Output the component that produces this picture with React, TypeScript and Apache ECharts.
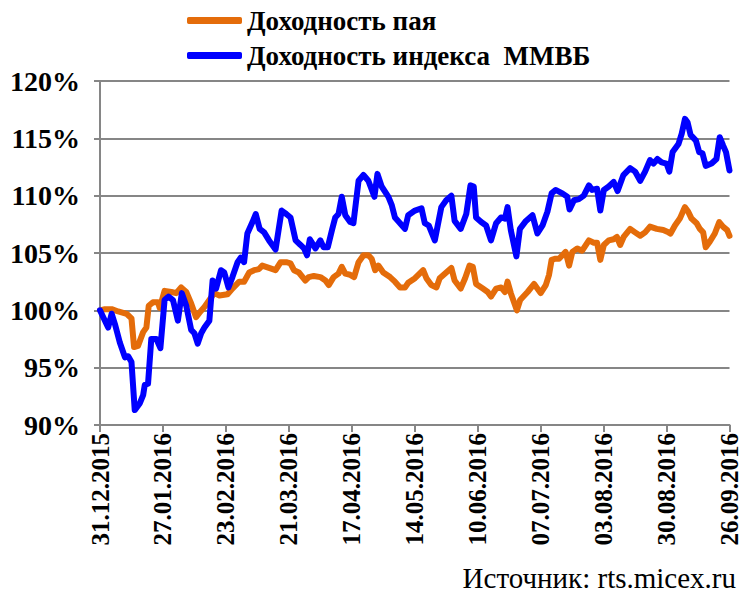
import React, { useEffect, useRef } from "react";
import * as echarts from "echarts";

const tickLabels = [
  "31.12.2015", "27.01.2016", "23.02.2016", "21.03.2016", "17.04.2016", "14.05.2016",
  "10.06.2016", "07.07.2016", "03.08.2016", "30.08.2016", "26.09.2016",
];

const seriesNames = ["Доходность пая", "Доходность индекса  ММВБ"];

// days since 31.12.2015
const fundDays = [
  0, 2.1, 5.0, 7.8, 11.4, 13.5, 14.6, 16.3, 18.5, 19.9, 20.9, 22.7, 24.9, 25.6, 27.7, 30.6, 32.7, 34.8, 37.0, 39.1,
  41.2, 43.1, 44.8, 46.9, 49.0, 51.2, 54.7, 56.8, 59.7, 61.8, 64.0, 66.1, 68.2, 69.6, 72.5, 75.3, 77.5, 79.9, 81.7, 83.2,
  85.3, 88.1, 89.5, 91.7, 94.5, 96.7, 98.1, 100.2, 102.3, 103.7, 105.2, 107.3, 109.0, 110.9, 113.0, 115.1, 116.5, 118.0, 119.4, 121.5,
  124.4, 126.5, 128.7, 130.8, 132.2, 135.1, 138.6, 140.0, 142.1, 144.3, 145.7, 148.5, 150.7, 152.1, 154.7, 156.6, 158.5, 159.9, 161.3, 164.2,
  166.3, 167.7, 169.9, 172.0, 173.7, 174.8, 176.2, 178.8, 180.2, 183.4, 186.2, 189.0, 191.2, 192.6, 193.7, 195.4, 196.9, 198.3, 199.7, 201.2,
  202.6, 204.7, 206.8, 209.7, 211.8, 213.2, 214.6, 216.1, 218.2, 220.3, 221.7, 223.1, 224.6, 227.4, 229.5, 231.7, 233.8, 235.9, 238.8, 241.6,
  243.8, 244.7, 246.6, 248.7, 250.2, 250.9, 252.3, 253.7, 255.9, 257.3, 258.7, 259.8, 261.6, 263.7, 265.6, 267.2, 269.0, 270,
];
const fundValues = [
  100.0, 100.1, 100.1, 99.9, 99.7, 99.3, 96.8, 96.9, 98.1, 98.5, 100.4, 100.7, 100.7, 100.2, 101.7, 101.6, 101.5, 102.0, 101.6, 100.6,
  99.4, 99.9, 100.3, 100.9, 101.5, 101.3, 101.4, 101.9, 102.5, 102.5, 103.3, 103.5, 103.6, 103.9, 103.7, 103.5, 104.2, 104.2, 104.1, 103.5,
  103.3, 102.6, 102.9, 103.0, 102.9, 102.6, 102.2, 102.9, 103.2, 103.8, 103.2, 103.1, 102.9, 104.2, 104.8, 104.8, 104.5, 103.5, 103.9, 103.3,
  102.9, 102.5, 102.0, 102.0, 102.4, 102.8, 103.5, 102.8, 102.2, 102.0, 102.8, 103.3, 103.7, 102.6, 101.9, 102.8, 103.9, 103.8, 102.3, 101.9,
  101.6, 101.2, 101.9, 102.0, 101.6, 102.5, 101.5, 100.0, 100.9, 101.6, 102.3, 101.5, 102.2, 103.1, 104.4, 104.5, 104.5, 104.8, 105.1, 103.9,
  105.1, 105.4, 105.2, 106.1, 105.9, 105.9, 104.4, 105.7, 106.1, 106.2, 106.4, 105.7, 106.4, 107.1, 106.8, 106.5, 106.8, 107.3, 107.1, 107.0,
  106.8, 106.7, 107.4, 108.0, 108.7, 109.0, 108.6, 108.0, 107.6, 107.1, 106.8, 105.5, 106.0, 106.7, 107.7, 107.3, 107.0, 106.5,
];

const indexDays = [
  0, 1.4, 3.5, 5.0, 6.4, 8.5, 10.7, 12.1, 13.5, 14.9, 17.1, 18.5, 19.2, 20.6, 22.0, 24.2, 25.9, 27.7, 29.4, 31.3,
  33.4, 35.1, 37.0, 39.1, 40.5, 41.9, 43.4, 44.8, 46.9, 48.3, 49.8, 51.9, 53.3, 55.1, 56.8, 59.0, 60.4, 61.8, 63.2, 65.4,
  66.8, 68.5, 70.4, 72.5, 75.3, 77.9, 79.9, 81.7, 83.9, 86.0, 87.5, 88.8, 90.0, 92.4, 94.5, 95.9, 97.7, 99.5, 100.9, 102.3,
  103.7, 105.2, 107.3, 108.7, 110.9, 113.0, 115.1, 117.7, 119.0, 120.8, 123.7, 125.1, 126.5, 128.7, 130.8, 132.2, 135.1, 137.9, 139.3, 141.0,
  143.6, 146.4, 148.5, 150.7, 152.1, 154.7, 157.1, 158.9, 160.3, 161.3, 163.5, 165.6, 167.7, 169.9, 172.0, 173.7, 174.8, 176.2, 178.6, 180.1,
  182.7, 185.5, 187.6, 189.8, 191.9, 193.7, 195.4, 198.3, 200.4, 201.4, 203.3, 205.4, 207.5, 209.7, 211.1, 213.2, 214.6, 216.1, 218.2, 220.3,
  222.0, 224.5, 227.4, 229.5, 231.7, 233.8, 235.9, 237.4, 239.1, 240.9, 243.0, 244.2, 245.6, 248.1, 249.5, 250.9, 252.0, 253.3, 255.6, 257.0,
  258.4, 259.8, 262.3, 264.4, 265.8, 267.2, 268.5, 270,
];
const indexValues = [
  100.0, 99.4, 98.5, 99.7, 98.8, 97.2, 95.9, 96.0, 95.5, 91.3, 91.9, 92.6, 93.5, 93.6, 97.5, 97.5, 96.7, 100.9, 101.2, 100.9,
  99.1, 101.5, 100.4, 98.3, 98.0, 97.1, 98.0, 98.5, 99.1, 102.6, 101.9, 103.5, 103.3, 102.0, 102.9, 104.2, 104.6, 104.2, 106.7, 107.7,
  108.4, 107.1, 106.8, 106.1, 105.3, 108.7, 108.4, 108.1, 106.1, 105.7, 105.4, 104.8, 106.2, 105.4, 106.1, 105.5, 105.5, 107.0, 108.1, 108.4,
  109.9, 108.3, 107.7, 107.6, 111.3, 111.8, 111.3, 109.9, 111.9, 110.8, 109.9, 109.2, 108.1, 107.6, 107.1, 108.3, 108.7, 108.9, 107.6, 107.4,
  106.1, 109.0, 109.6, 110.0, 107.8, 107.1, 108.4, 110.9, 110.8, 108.1, 107.7, 107.4, 106.1, 107.6, 108.1, 108.0, 109.0, 107.0, 104.7, 107.1,
  107.8, 108.3, 106.7, 107.4, 108.6, 110.2, 110.5, 110.2, 109.9, 108.8, 109.6, 109.7, 110.0, 110.9, 110.5, 110.6, 108.7, 110.5, 110.8, 111.2,
  110.4, 111.8, 112.4, 112.1, 111.3, 112.1, 113.1, 112.8, 113.2, 112.9, 112.8, 112.1, 113.8, 114.5, 115.4, 116.7, 116.4, 115.3, 114.8, 113.8,
  113.7, 112.6, 112.8, 113.2, 115.1, 114.4, 113.8, 112.2,
];

const serif = "'Liberation Serif', 'Times New Roman', serif";

export default function App() {
  const ref = useRef<HTMLDivElement>(null);
  useEffect(() => {
    if (!ref.current) return;
    const chart = echarts.init(ref.current, null, { renderer: "svg" });
    const fundData = fundDays.map((d, i) => [d, fundValues[i]]);
    const indexData = indexDays.map((d, i) => [d, indexValues[i]]);
    chart.setOption({
      animation: false,
      backgroundColor: "#ffffff",
      legend: {
        orient: "vertical",
        left: 182,
        top: 2,
        itemWidth: 55,
        itemHeight: 7,
        itemGap: 8,
        icon: "roundRect",
        textStyle: { fontFamily: serif, fontWeight: "bold", fontSize: 27, color: "#000" },
        data: seriesNames,
      },
      grid: { left: 100, right: 8, top: 81, bottom: 168, containLabel: false },
      xAxis: {
        type: "value",
        min: 0,
        max: 270,
        interval: 27,
        axisLine: { show: true, lineStyle: { color: "#868686", width: 2 } },
        axisTick: { show: true, length: 7, lineStyle: { color: "#868686", width: 2 } },
        splitLine: { show: false },
        axisLabel: {
          rotate: 90,
          margin: 8,
          fontFamily: serif,
          fontWeight: "bold",
          fontSize: 25,
          color: "#000",
          formatter: (v: number) => tickLabels[Math.round(v / 27)] ?? "",
        },
      },
      yAxis: {
        type: "value",
        min: 90,
        max: 120,
        interval: 5,
        axisLine: { show: true, lineStyle: { color: "#868686", width: 2 } },
        axisTick: { show: true, length: 6, lineStyle: { color: "#868686", width: 2 } },
        splitLine: { show: true, lineStyle: { color: "#868686", width: 2 } },
        axisLabel: {
          margin: 20,
          fontFamily: serif,
          fontWeight: "bold",
          fontSize: 28,
          color: "#000",
          formatter: (v: number) => `${v}%`,
        },
      },
      series: [
        {
          name: seriesNames[0],
          type: "line",
          data: fundData,
          showSymbol: false,
          symbol: "none",
          color: "#E46C0A",
          lineStyle: { color: "#E46C0A", width: 6, join: "round", cap: "round" },
          z: 2,
        },
        {
          name: seriesNames[1],
          type: "line",
          data: indexData,
          showSymbol: false,
          symbol: "none",
          color: "#0000FF",
          lineStyle: { color: "#0000FF", width: 6, join: "round", cap: "round" },
          z: 3,
        },
      ],
      graphic: [
        {
          type: "text",
          right: 6,
          top: 563,
          style: {
            text: "Источник: rts.micex.ru",
            fontFamily: serif,
            fontSize: 29,
            fill: "#000",
          },
        },
      ],
    });
    return () => chart.dispose();
  }, []);
  return <div ref={ref} style={{ width: 742, height: 593, position: "absolute", left: 0, top: 0 }} />;
}
